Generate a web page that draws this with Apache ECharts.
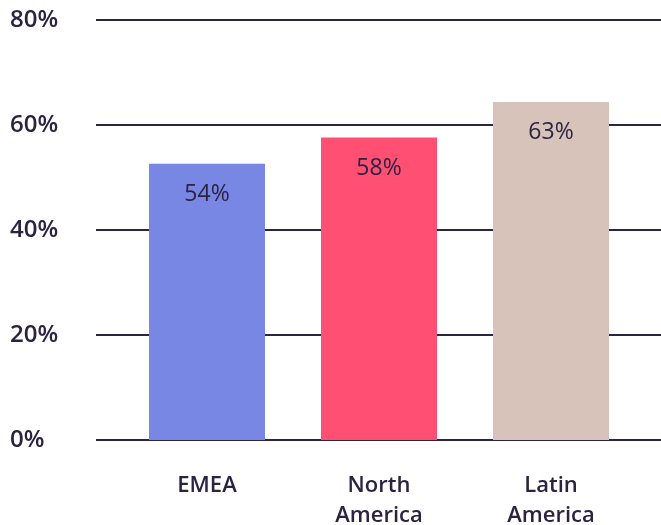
<!DOCTYPE html>
<html>
<head>
<meta charset="utf-8">
<script src="https://cdn.jsdelivr.net/npm/echarts@6/dist/echarts.min.js"></script>
<style>html,body{margin:0;padding:0;background:#fff;}#c{width:661px;height:525px;}</style>
</head>
<body>
<div id="c"></div>
<script>
var categories = ['EMEA', 'North\nAmerica', 'Latin\nAmerica'];
var values = [52.6, 57.6, 64.4];
var valueLabels = ['54%', '58%', '63%'];
var barColors = ['#7886E4', '#FF4F73', '#D7C3BA'];
var yTicks = [0, 20, 40, 60, 80];

var ink = '#2B2340';
var font = '"Open Sans", "Liberation Sans", sans-serif';
var chart = echarts.init(document.getElementById('c'), null, {renderer: 'canvas'});
chart.setOption({
  backgroundColor: '#ffffff',
  animation: false,
  grid: [
    {left: 96, right: 0, top: 20, bottom: 85, containLabel: false, outerBoundsMode: 'none'},
    {left: 121, right: 24, top: 20, bottom: 85, containLabel: false, outerBoundsMode: 'none'}
  ],
  xAxis: [
    {gridIndex: 0, type: 'category', data: [''], show: false},
    {gridIndex: 1, type: 'category', data: categories,
     axisLine: {show: false}, axisTick: {show: false},
     axisLabel: {color: ink, fontFamily: font, fontSize: 22, fontWeight: 600, lineHeight: 30, margin: 31, interval: 0}}
  ],
  yAxis: [
    {gridIndex: 0, type: 'value', min: yTicks[0], max: yTicks[yTicks.length - 1], interval: 20,
     axisLine: {show: false}, axisTick: {show: false},
     splitLine: {show: true, lineStyle: {color: ink, width: 2}},
     axisLabel: {formatter: '{value}%', align: 'left', margin: 86, color: ink, fontFamily: font, fontSize: 24, fontWeight: 600, padding: [5, 0, 0, 0]}},
    {gridIndex: 1, type: 'value', min: yTicks[0], max: yTicks[yTicks.length - 1], interval: 20, show: false, splitLine: {show: false}}
  ],
  series: [{
    type: 'bar',
    xAxisIndex: 1,
    yAxisIndex: 1,
    barWidth: 116,
    data: values.map(function (v, i) { return {value: v, itemStyle: {color: barColors[i]}}; }),
    label: {
      show: true,
      position: 'insideTop',
      distance: 19,
      color: ink,
      fontFamily: font,
      fontSize: 23,
      fontWeight: 500,
      formatter: function (p) { return valueLabels[p.dataIndex]; }
    }
  }]
});
</script>
</body>
</html>
